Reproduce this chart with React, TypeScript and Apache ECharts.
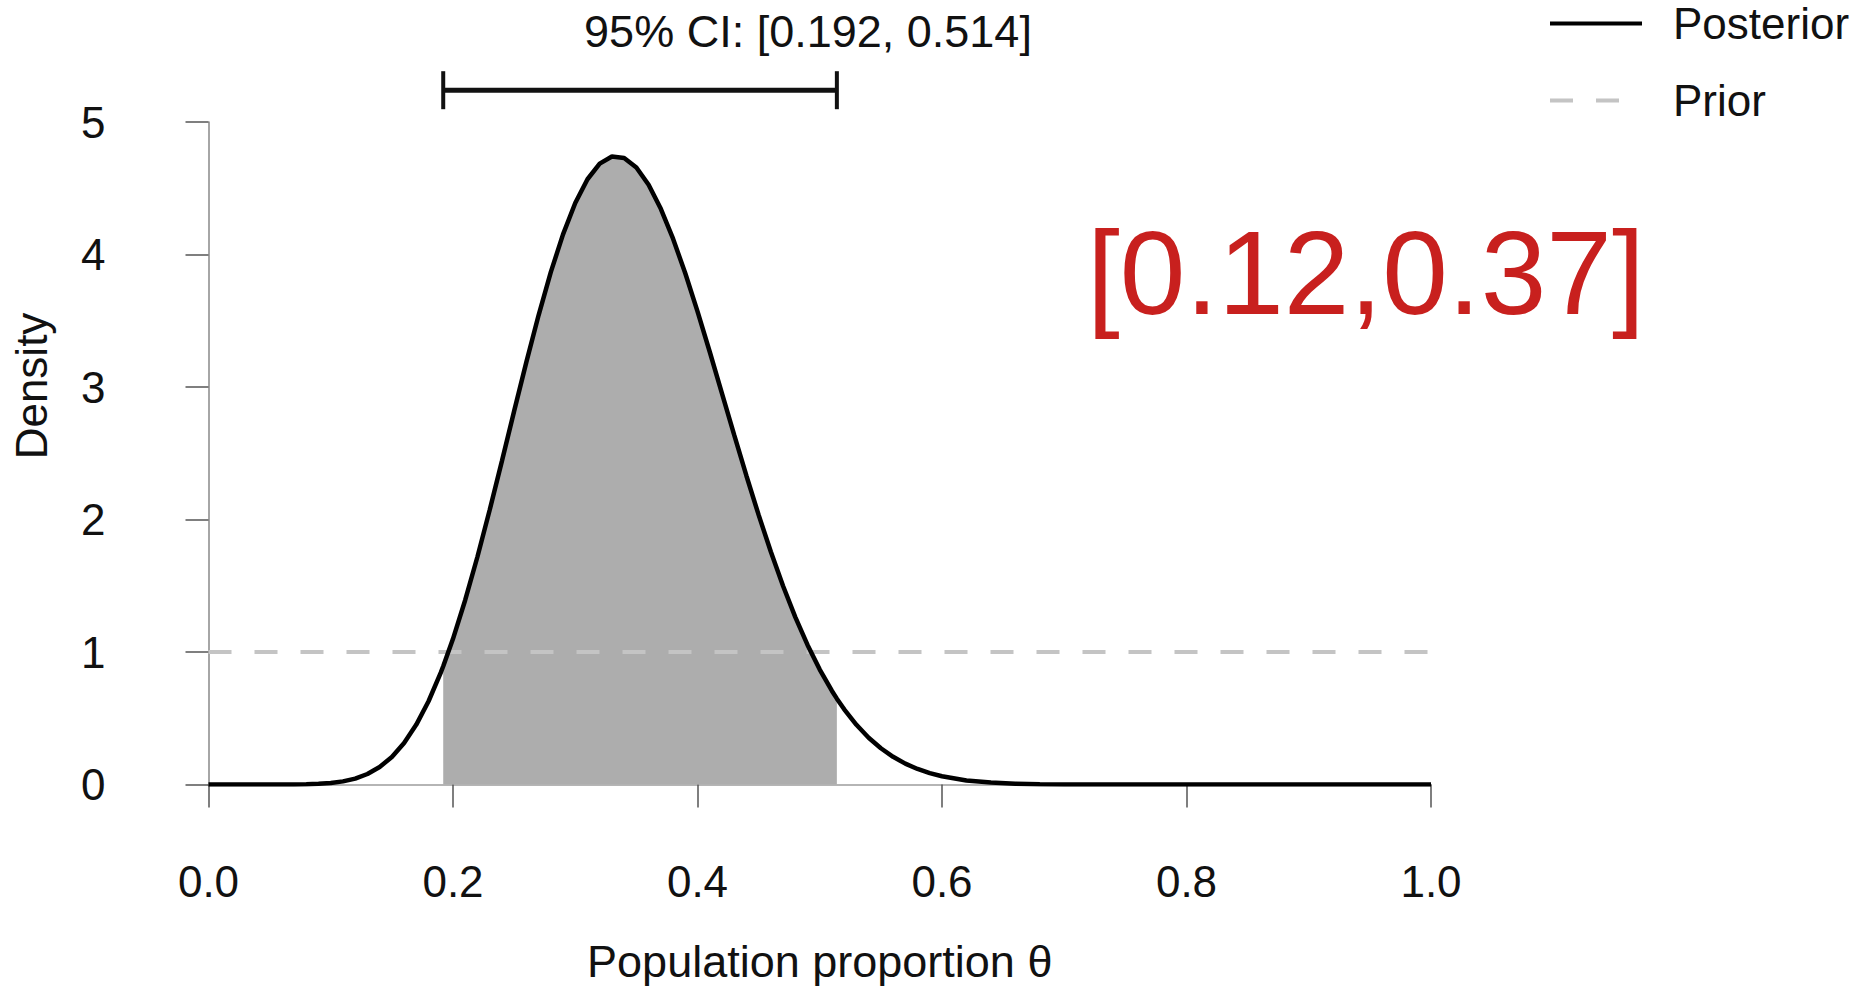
import React, { useEffect, useRef } from "react";
import * as echarts from "echarts";

// ---- data ----
const theta = [
  0, 0.02, 0.04, 0.05, 0.06, 0.07, 0.08, 0.09, 0.1, 0.11, 0.12, 0.13, 0.14, 0.15, 0.16, 0.17, 0.18, 0.19, 0.192,
  0.2, 0.21, 0.22, 0.23, 0.24, 0.25, 0.26, 0.27, 0.28, 0.29, 0.3, 0.31, 0.32, 0.33, 0.34, 0.35, 0.36, 0.37,
  0.38, 0.39, 0.4, 0.41, 0.42, 0.43, 0.44, 0.45, 0.46, 0.47, 0.48, 0.49, 0.5, 0.51, 0.514, 0.52, 0.53, 0.54,
  0.55, 0.56, 0.57, 0.58, 0.59, 0.6, 0.62, 0.64, 0.66, 0.68, 0.7, 0.75, 0.8, 0.9, 1.0,
];
const posteriorDensity = [
  0, 0, 0, 0.00003, 0.00016, 0.00062, 0.0019, 0.0049, 0.0113, 0.0235, 0.0447, 0.0793, 0.132, 0.2082, 0.3133,
  0.4521, 0.6283, 0.8441, 0.892, 1.0996, 1.3927, 1.7189, 2.0713, 2.4407, 2.818, 3.1875, 3.5414, 3.8669, 4.1515,
  4.3883, 4.568, 4.6856, 4.7393, 4.7288, 4.6567, 4.5264, 4.3447, 4.1191, 3.8581, 3.5707, 3.266, 2.9525, 2.6383,
  2.3304, 2.0348, 1.7562, 1.4984, 1.2636, 1.0533, 0.8674, 0.706, 0.6479, 0.5676, 0.4507, 0.3534, 0.2735, 0.209,
  0.1575, 0.1171, 0.0858, 0.0619, 0.0308, 0.0144, 0.0062, 0.0025, 0.0009, 0.00005, 0, 0, 0,
];
const priorTheta = [0, 1];
const priorDensity = [1, 1];
const ciLower = 0.192;
const ciUpper = 0.514;
const ciBarLevel = 5.24;
const seriesNames = ["Posterior", "Prior"];
const titleText = "95% CI: [0.192, 0.514]";
const annotationText = "[0.12,0.37]";
const xAxisTitle = "Population proportion θ";
const yAxisTitle = "Density";

const FONT = '"Liberation Sans", Arial, Helvetica, sans-serif';

export default function App() {
  const ref = useRef<HTMLDivElement>(null);

  useEffect(() => {
    const chart = echarts.init(ref.current as HTMLDivElement, null, { renderer: "svg" });
    const posterior = theta.map((t, i) => [t, posteriorDensity[i]]);
    const prior = priorTheta.map((t, i) => [t, priorDensity[i]]);
    const ciArea = posterior.filter(([t]) => t >= ciLower - 1e-9 && t <= ciUpper + 1e-9);

    chart.setOption({
      animation: false,
      backgroundColor: "#ffffff",
      textStyle: { fontFamily: FONT },
      title: {
        text: titleText,
        left: 808,
        top: 8.5,
        textAlign: "center",
        padding: 0,
        textStyle: { fontSize: 45, fontWeight: "normal", color: "#111", fontFamily: FONT },
      },
      legend: {
        data: seriesNames,
        orient: "vertical",
        left: 1548,
        top: 1.5,
        padding: 0,
        itemWidth: 92,
        itemHeight: 14,
        itemGap: 33,
        selectedMode: false,
        itemStyle: { color: "rgba(0,0,0,0)", borderWidth: 0, opacity: 0 },
        lineStyle: { width: 4 },
        textStyle: { fontSize: 44, color: "#111", fontFamily: FONT, lineHeight: 44, padding: [0, 0, 0, 26] },
      },
      grid: { left: 208.5, right: 433, top: 122, bottom: 205.5, containLabel: false, outerBoundsMode: "none" },
      xAxis: {
        type: "value",
        min: 0,
        max: 1,
        interval: 0.2,
        offset: 38.5,
        name: xAxisTitle,
        nameLocation: "middle",
        nameGap: 116,
        nameMoveOverlap: false,
        nameTextStyle: { fontSize: 45, color: "#111", fontFamily: FONT },
        axisLine: { show: true, lineStyle: { color: "#b5b5b5", width: 2 } },
        axisTick: { show: true, length: 23, lineStyle: { color: "#555", width: 1.5 } },
        axisLabel: { fontSize: 44, color: "#111", margin: 36, formatter: (v: number) => v.toFixed(1) },
        splitLine: { show: false },
      },
      yAxis: {
        type: "value",
        min: 0,
        max: 5,
        interval: 1,
        offset: 61,
        axisLine: { show: true, lineStyle: { color: "#888", width: 1.5 } },
        axisTick: { show: true, length: 23, lineStyle: { color: "#555", width: 1.5 } },
        axisLabel: { fontSize: 44, color: "#111", margin: 42 },
        splitLine: { show: false },
      },
      graphic: [
        {
          type: "text",
          x: 31,
          y: 386,
          rotation: Math.PI / 2,
          style: {
            text: yAxisTitle,
            fontSize: 44,
            fontFamily: FONT,
            fill: "#111",
            align: "center",
            verticalAlign: "middle",
          },
        },
        {
          type: "text",
          x: 1087,
          y: 273,
          style: {
            text: annotationText,
            fontSize: 118,
            fontFamily: FONT,
            fill: "#c8201e",
            align: "left",
            verticalAlign: "middle",
          },
        },
      ],
      series: [
        {
          name: "CI area",
          type: "line",
          data: ciArea,
          symbol: "none",
          lineStyle: { width: 0 },
          areaStyle: { color: "#adadad", opacity: 1 },
          z: 1,
          silent: true,
        },
        {
          name: seriesNames[1],
          type: "line",
          data: prior,
          symbol: "none",
          lineStyle: { color: "#c4c4c4", width: 4, type: [23, 23] },
          itemStyle: { color: "#c4c4c4" },
          z: 2,
        },
        {
          name: seriesNames[0],
          type: "line",
          data: posterior,
          symbol: "none",
          lineStyle: { color: "#000", width: 4.5 },
          itemStyle: { color: "#000" },
          z: 3,
        },
        {
          name: "CI bar",
          type: "custom",
          data: [[ciLower, ciUpper, ciBarLevel]],
          encode: { x: [0, 1], y: 2 },
          clip: false,
          silent: true,
          z: 4,
          renderItem: (_params: any, api: any) => {
            const a = api.coord([api.value(0), api.value(2)]);
            const b = api.coord([api.value(1), api.value(2)]);
            const cap = 19;
            const style = { stroke: "#111", lineWidth: 5 };
            return {
              type: "group",
              children: [
                { type: "line", shape: { x1: a[0], y1: a[1], x2: b[0], y2: b[1] }, style },
                { type: "line", shape: { x1: a[0], y1: a[1] - cap, x2: a[0], y2: a[1] + cap }, style: { stroke: "#111", lineWidth: 4 } },
                { type: "line", shape: { x1: b[0], y1: b[1] - cap, x2: b[0], y2: b[1] + cap }, style: { stroke: "#111", lineWidth: 4 } },
              ],
            };
          },
        },
      ],
    });

    return () => chart.dispose();
  }, []);

  return (
    <div
      ref={ref}
      style={{ position: "fixed", left: 0, top: 0, width: 1864, height: 990, background: "#fff" }}
    />
  );
}
